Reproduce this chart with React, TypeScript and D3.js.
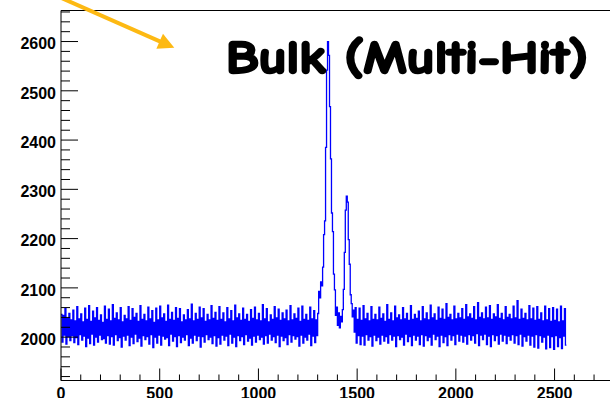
import React from "react";
import * as d3 from "d3";

// Histogram: 512 bins of 5 channels each, covering channels 0..2560
const binWidth = 5;
const firstChannel = 0;
const counts: number[] = [
  2046, 1990, 2044, 2004, 2058, 1986, 2038, 2001, 2048, 1993, 2035, 2003, 2055, 1989, 2033, 1999,
  2062, 1985, 2037, 2005, 2047, 1994, 2031, 2002, 2059, 1981, 2036, 1998, 2064, 1987, 2032, 2006,
  2053, 1984, 2039, 2000, 2060, 1990, 2034, 2004, 2045, 1995, 2030, 1997, 2063, 1988, 2036, 2003,
  2057, 1986, 2033, 2001, 2066, 1984, 2038, 2005, 2049, 1993, 2035, 1999, 2060, 1980, 2031, 2002,
  2044, 1994, 2037, 2004, 2062, 1983, 2034, 2000, 2058, 1987, 2040, 2006, 2048, 1991, 2032, 1998,
  2064, 1982, 2036, 2003, 2046, 1995, 2033, 2001, 2061, 1986, 2037, 2005, 2054, 1979, 2030, 2000,
  2059, 1988, 2035, 2004, 2063, 1984, 2039, 2002, 2047, 1996, 2032, 1999, 2065, 1983, 2036, 2006,
  2050, 1992, 2034, 2001, 2060, 1981, 2038, 2003, 2058, 1989, 2031, 2000, 2045, 1994, 2035, 2005,
  2056, 1983, 2037, 1998, 2067, 1988, 2033, 2004, 2048, 1993, 2036, 2002, 2061, 1980, 2039, 2001,
  2058, 1990, 2032, 2005, 2046, 1995, 2035, 2000, 2064, 1987, 2038, 2003, 2050, 1982, 2034, 1999,
  2062, 1986, 2036, 2004, 2049, 1994, 2031, 2002, 2060, 1983, 2037, 2006, 2054, 1988, 2033, 2000,
  2065, 1981, 2039, 2003, 2047, 1993, 2034, 2001, 2059, 1985, 2036, 2005, 2046, 1992, 2032, 1998,
  2056, 1984, 2038, 2002, 2061, 1990, 2035, 2004, 2048, 1995, 2033, 2000, 2066, 1986, 2037, 2003,
  2058, 1988, 2031, 2006, 2045, 1994, 2036, 2001, 2062, 1989, 2039, 2004, 2057, 1981, 2034, 2002,
  2049, 1993, 2037, 1999, 2055, 1985, 2033, 2005, 2064, 1990, 2035, 2003, 2047, 1996, 2038, 2001,
  2059, 1982, 2032, 2004, 2063, 1988, 2036, 2000, 2046, 1994, 2034, 2006, 2061, 1983, 2037, 2002,
  2054, 1989, 2035, 2003, 2048, 2093, 2080, 2112, 2104, 2142, 2208, 2236, 2385, 2542, 2600, 2572,
  2468, 2362, 2252, 2214, 2128, 2096, 2044, 2061, 2024, 2049, 2019, 2042, 2031, 2056, 2097, 2172,
  2258, 2286, 2274, 2198, 2148, 2086, 2068, 2041, 2055, 2010, 2060, 1988, 2036, 2003, 2059, 1985,
  2034, 2002, 2064, 1984, 2037, 2005, 2048, 1994, 2033, 2001, 2062, 1982, 2036, 2004, 2046, 1993,
  2035, 2000, 2061, 1986, 2038, 2004, 2047, 1992, 2032, 2001, 2066, 1988, 2036, 2005, 2049, 1994,
  2033, 2002, 2063, 1981, 2039, 2003, 2045, 1995, 2035, 2000, 2060, 1984, 2037, 2006, 2048, 1991,
  2034, 2001, 2064, 1983, 2036, 2004, 2046, 1994, 2038, 2002, 2053, 1985, 2033, 2005, 2062, 1982,
  2037, 2003, 2049, 1993, 2035, 2000, 2065, 1984, 2039, 2006, 2047, 1995, 2034, 2002, 2061, 1981,
  2038, 2004, 2057, 1989, 2036, 2001, 2068, 1983, 2040, 2005, 2046, 1994, 2035, 2003, 2063, 1985,
  2037, 2006, 2048, 1992, 2039, 2004, 2058, 1990, 2036, 2002, 2066, 1986, 2041, 2005, 2047, 1994,
  2038, 2003, 2062, 1988, 2035, 2007, 2070, 1983, 2040, 2004, 2049, 1995, 2037, 2006, 2061, 1985,
  2039, 2002, 2064, 1981, 2036, 2005, 2047, 1993, 2041, 2003, 2066, 1986, 2038, 2006, 2048, 1992,
  2035, 2004, 2062, 1987, 2040, 2002, 2046, 1994, 2037, 2005, 2063, 1988, 2039, 2003, 2074, 1985,
  2036, 2006, 2057, 1982, 2038, 2001, 2048, 1992, 2035, 2004, 2064, 1984, 2037, 2002, 2059, 1980,
  2034, 2005, 2062, 1978, 2036, 2003, 2049, 1990, 2033, 2000, 2063, 1976, 2035, 2004, 2058, 1979,
  2032, 2001, 2060, 1975, 2034, 2003, 2057, 1981, 2031, 1999, 2063, 1977, 2033, 2002, 2058, 1984,
];

const xMajorTicks = [0, 500, 1000, 1500, 2000, 2500];
const yMajorTicks = [2000, 2100, 2200, 2300, 2400, 2500, 2600];
const titleText = "Bulk (Multi-Hit)";

const W = 610;
const H = 398;

const x = d3.scaleLinear().domain([0, 2800]).range([61, 613.8]);
const y = d3.scaleLinear().domain([1912, 2663]).range([380.5, 10.5]);

const labelFont = "'Liberation Sans', Arial, Helvetica, sans-serif";

export default function App() {
  // step outline of the histogram, closed at the last bin's upper edge
  const pts: [number, number][] = counts.map((c, i) => [firstChannel + i * binWidth, c]);
  pts.push([firstChannel + counts.length * binWidth, counts[counts.length - 1]]);
  const stepPath = d3
    .line<[number, number]>()
    .x((d) => x(d[0]))
    .y((d) => y(d[1]))
    .curve(d3.curveStepAfter)(pts) as string;

  const xMinor = d3.range(0, 2801, 100).filter((v) => v % 500 !== 0);
  const yMinor = d3.range(1920, 2663, 20).filter((v) => v % 100 !== 0);

  const axisY = y.range()[0];
  const axisX = x.range()[0];

  // annotation arrow
  const tip: [number, number] = [174.3, 47.7];
  const ang = Math.atan2(47.7, 108.3);
  const headLen = 16;
  const headHalf = 8.2;
  const bx = tip[0] - headLen * Math.cos(ang);
  const by = tip[1] - headLen * Math.sin(ang);
  const px = -Math.sin(ang);
  const py = Math.cos(ang);
  const head = [
    [tip[0], tip[1]],
    [bx + px * headHalf, by + py * headHalf],
    [bx - px * headHalf, by - py * headHalf],
  ]
    .map((p) => p.join(","))
    .join(" ");

  return (
    <svg
      width={W}
      height={H}
      viewBox={`0 0 ${W} ${H}`}
      style={{ position: "absolute", left: 0, top: 0, background: "#fff" }}
    >
      <rect x={0} y={0} width={W} height={H} fill="#fff" />

      {/* histogram outline */}
      <path d={stepPath} fill="none" stroke="#0000ff" strokeWidth={1.3} />

      {/* frame */}
      <line x1={axisX} x2={W} y1={10.5} y2={10.5} stroke="#000" strokeWidth={1} />
      <line x1={axisX} x2={axisX} y1={10.5} y2={axisY} stroke="#000" strokeWidth={1} />
      <line x1={axisX} x2={W} y1={axisY} y2={axisY} stroke="#000" strokeWidth={1} />

      {/* x axis ticks */}
      {xMajorTicks.map((v) => (
        <line key={"xM" + v} x1={x(v)} x2={x(v)} y1={axisY} y2={axisY - 12} stroke="#000" />
      ))}
      {xMinor.map((v) => (
        <line key={"xm" + v} x1={x(v)} x2={x(v)} y1={axisY} y2={axisY - 6} stroke="#000" />
      ))}
      {xMajorTicks.map((v) => (
        <text
          key={"xl" + v}
          x={x(v)}
          y={399.3}
          textAnchor="middle"
          fontFamily={labelFont}
          fontWeight="bold"
          fontSize={16}
          fill="#000"
        >
          {v}
        </text>
      ))}

      {/* y axis ticks */}
      {yMajorTicks.map((v) => (
        <line key={"yM" + v} x1={axisX} x2={axisX + 17} y1={y(v)} y2={y(v)} stroke="#000" />
      ))}
      {yMinor.map((v) => (
        <line key={"ym" + v} x1={axisX} x2={axisX + 9} y1={y(v)} y2={y(v)} stroke="#000" />
      ))}
      {yMajorTicks.map((v) => (
        <text
          key={"yl" + v}
          x={56}
          y={y(v) + 7.8}
          textAnchor="end"
          fontFamily={labelFont}
          fontWeight="bold"
          fontSize={16}
          fill="#000"
        >
          {v}
        </text>
      ))}

      {/* title */}
      <text
        x={226}
        y={72.5}
        fontFamily="'Comic Sans MS', 'Comic Neue', Lato, 'Noto Sans', sans-serif"
        fontWeight="bold"
        fontSize={47}
        textLength={362}
        lengthAdjust="spacingAndGlyphs"
        fill="#000"
        stroke="#000"
        strokeWidth={2.6}
        strokeLinejoin="round"
      >
        {titleText}
      </text>

      {/* arrow */}
      <line
        x1={tip[0] - 140 * Math.cos(ang)}
        y1={tip[1] - 140 * Math.sin(ang)}
        x2={bx + 2 * Math.cos(ang)}
        y2={by + 2 * Math.sin(ang)}
        stroke="#fdb913"
        strokeWidth={4}
      />
      <polygon points={head} fill="#fdb913" />
    </svg>
  );
}
